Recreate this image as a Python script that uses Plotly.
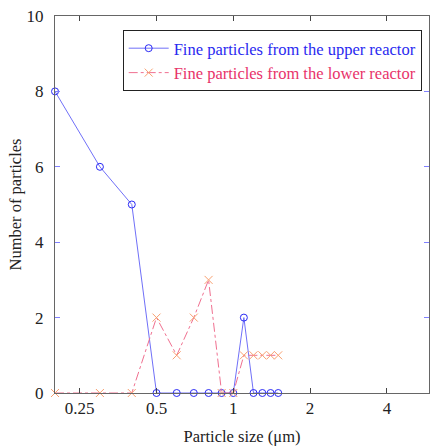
import plotly.graph_objects as go
import math

sizes = [0.2, 0.3, 0.4, 0.5, 0.6, 0.7, 0.8, 0.9, 1.0, 1.1, 1.2, 1.3, 1.4, 1.5]
upper = [8, 6, 5, 0, 0, 0, 0, 0, 0, 2, 0, 0, 0, 0]
lower = [0, 0, 0, 2, 1, 2, 3, 0, 0, 1, 1, 1, 1, 1]
xticks = [0.25, 0.5, 1, 2, 4]
xticklabels = ["0.25", "0.5", "1", "2", "4"]
yticks = [0, 2, 4, 6, 8, 10]

font = "Liberation Serif"

fig = go.Figure()
fig.add_trace(go.Scatter(
    x=sizes, y=upper, mode="lines+markers",
    name='<span style="color:#2a2af0">Fine particles from the upper reactor</span>',
    line=dict(color="#7070f8", width=1),
    marker=dict(symbol="circle-open", size=7, color="#2a2af5", line=dict(width=1)),
    cliponaxis=False,
))
fig.add_trace(go.Scatter(
    x=sizes, y=lower, mode="lines+markers",
    name='<span style="color:#e8336a">Fine particles from the lower reactor</span>',
    line=dict(color="#f07090", width=1, dash="dashdot"),
    marker=dict(symbol="x-thin-open", size=8, color="#f8a070", line=dict(width=1, color="#f8a070")),
    cliponaxis=False,
))

fig.update_layout(
    width=430, height=446,
    margin=dict(l=55, r=1, t=16, b=53, autoexpand=False),
    paper_bgcolor="white", plot_bgcolor="white",
    font=dict(family=font, size=16, color="#222"),
    showlegend=True,
    legend=dict(
        x=0.181, y=0.963, xanchor="left", yanchor="top",
        bordercolor="#222", borderwidth=1, bgcolor="white",
        font=dict(family=font, size=16.5),
        tracegroupgap=0, itemwidth=40,
    ),
    xaxis=dict(
        type="log", range=[math.log10(0.2), math.log10(5.85)],
        tickvals=xticks, ticktext=xticklabels,
        ticks="inside", ticklen=5, tickcolor="#444",
        showline=True, linecolor="#666", linewidth=1, mirror="ticks",
        showgrid=False, zeroline=False, automargin=False,
        title=dict(text="Particle size (μm)", font=dict(family=font, size=16.5)),
        tickfont=dict(family=font, size=17),
    ),
    yaxis=dict(
        range=[0, 10], tickvals=yticks,
        ticks="inside", ticklen=5, tickcolor="#8080ff",
        showline=True, linecolor="#666", linewidth=1, mirror="ticks",
        showgrid=False, zeroline=False, automargin=False,
        ticklabelstandoff=7,
        title=dict(text="Number of particles", font=dict(family=font, size=16.5), standoff=0),
        tickfont=dict(family=font, size=17),
    ),
)

fig.write_html("out.html", config={"displayModeBar": False},
               post_script="document.body.style.margin='0';document.body.style.overflow='hidden';")
